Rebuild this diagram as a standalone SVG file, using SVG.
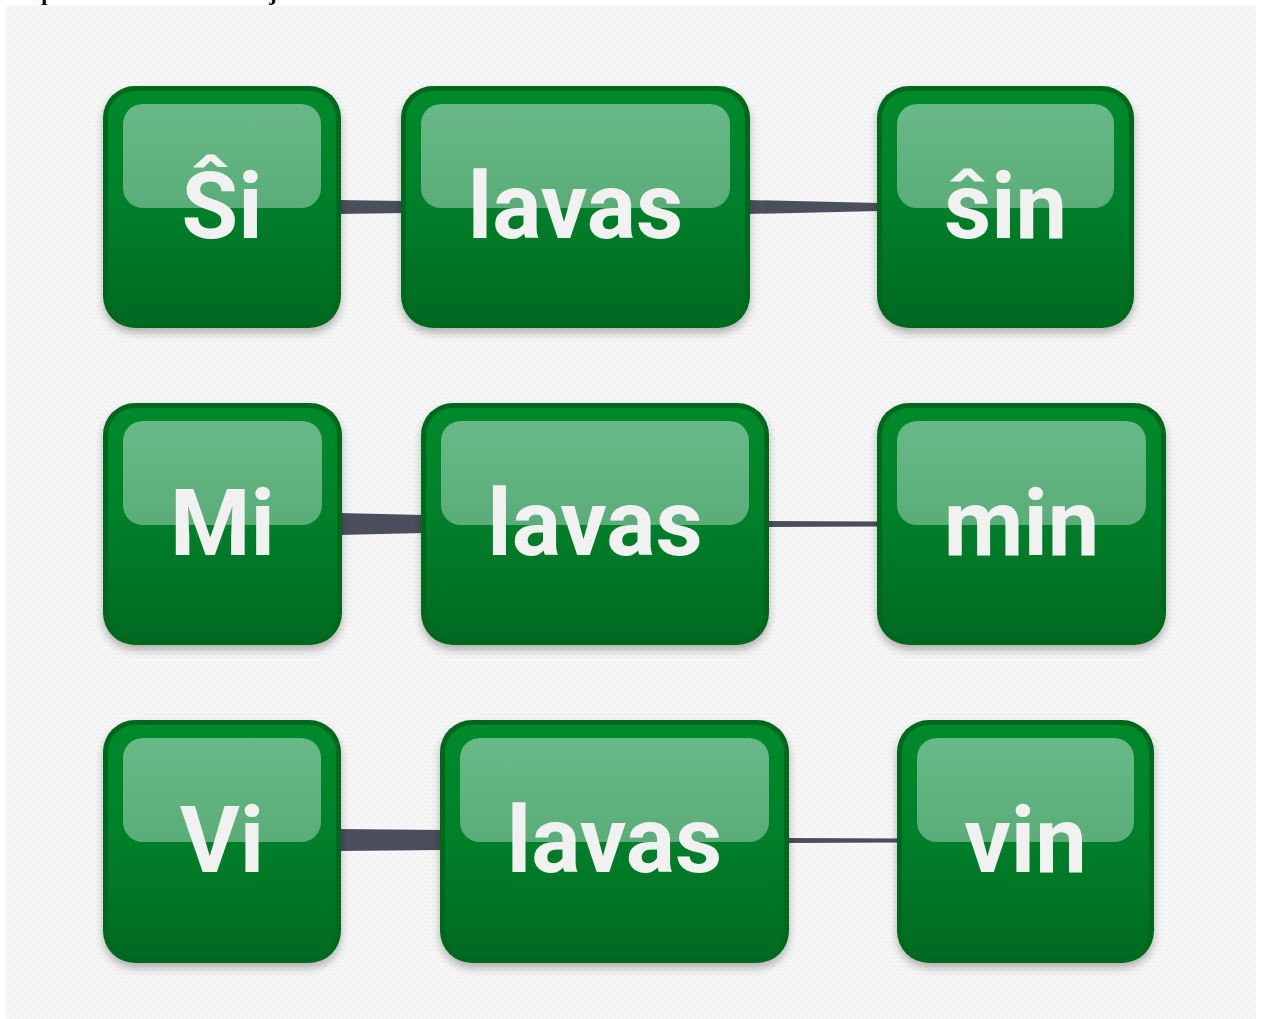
<svg xmlns="http://www.w3.org/2000/svg" width="1264" height="1019" viewBox="0 0 1264 1019">
<defs>
<pattern id="dots" width="8" height="8" patternUnits="userSpaceOnUse">
<rect width="8" height="8" fill="#f6f6f6"/>
<circle cx="2" cy="2" r="1.1" fill="#ebebeb"/>
<circle cx="6" cy="6" r="1.1" fill="#ebebeb"/>
</pattern>
<linearGradient id="body" x1="0" y1="0" x2="0" y2="1">
<stop offset="0" stop-color="#008a2c"/>
<stop offset="0.5" stop-color="#007f29"/>
<stop offset="1" stop-color="#006a22"/>
</linearGradient>
<linearGradient id="gloss" x1="0" y1="0" x2="0" y2="1">
<stop offset="0" stop-color="#68b987"/>
<stop offset="1" stop-color="#5aad78"/>
</linearGradient>
<filter id="sh" x="-10%" y="-10%" width="120%" height="130%">
<feDropShadow dx="0" dy="5" stdDeviation="4" flood-color="#000" flood-opacity="0.28"/>
</filter>
<style>
.outer{fill:#00681d;filter:url(#sh)}
.inner{fill:url(#body)}
.gloss{fill:url(#gloss)}
.lbl{font-family:Roboto,"Liberation Sans",sans-serif;font-weight:bold;font-size:92px;fill:#f1f1f1;text-anchor:middle}
.edge{fill:#4b4e5c}
.title{font-family:"Liberation Serif",serif;font-weight:bold;font-size:22px;fill:#000}
</style>
</defs>
<rect width="1264" height="1019" fill="#ffffff"/>
<rect x="6" y="6" width="1250" height="1013" fill="url(#dots)"/>
<text class="title" x="18" y="0">Esperanto en la vortaro kaj</text>
<g id="connectors">
<polygon class="edge" points="338,200 404,201 404,213 338,214"/>
<polygon class="edge" points="747,200 880,203 880,211 747,214"/>
<polygon class="edge" points="339,513 424,515 424,533 339,535"/>
<polygon class="edge" points="766,521 880,521.5 880,526.5 766,527"/>
<polygon class="edge" points="338,829 443,830 443,850 338,851"/>
<polygon class="edge" points="786,838 900,838.5 900,842.5 786,843"/>
</g>
<g id="n-si">
<rect class="outer" x="103" y="86" width="238" height="242" rx="32"/>
<rect class="inner" x="108" y="91" width="228" height="232" rx="27"/>
<rect class="gloss" x="123" y="104" width="198" height="104" rx="20"/>
<text class="lbl" x="222" y="238">Ŝi</text>
</g>
<g id="n-lavas1">
<rect class="outer" x="401" y="86" width="349" height="242" rx="32"/>
<rect class="inner" x="406" y="91" width="339" height="232" rx="27"/>
<rect class="gloss" x="421" y="104" width="309" height="104" rx="20"/>
<text class="lbl" x="575.5" y="238">lavas</text>
</g>
<g id="n-sin">
<rect class="outer" x="877" y="86" width="257" height="242" rx="32"/>
<rect class="inner" x="882" y="91" width="247" height="232" rx="27"/>
<rect class="gloss" x="897" y="104" width="217" height="104" rx="20"/>
<text class="lbl" x="1005.5" y="238">ŝin</text>
</g>
<g id="n-mi">
<rect class="outer" x="103" y="403" width="239" height="242" rx="32"/>
<rect class="inner" x="108" y="408" width="229" height="232" rx="27"/>
<rect class="gloss" x="123" y="421" width="199" height="104" rx="20"/>
<text class="lbl" x="222.5" y="555">Mi</text>
</g>
<g id="n-lavas2">
<rect class="outer" x="421" y="403" width="348" height="242" rx="32"/>
<rect class="inner" x="426" y="408" width="338" height="232" rx="27"/>
<rect class="gloss" x="441" y="421" width="308" height="104" rx="20"/>
<text class="lbl" x="595" y="555">lavas</text>
</g>
<g id="n-min">
<rect class="outer" x="877" y="403" width="289" height="242" rx="32"/>
<rect class="inner" x="882" y="408" width="279" height="232" rx="27"/>
<rect class="gloss" x="897" y="421" width="249" height="104" rx="20"/>
<text class="lbl" x="1021.5" y="555">min</text>
</g>
<g id="n-vi">
<rect class="outer" x="103" y="720" width="238" height="243" rx="32"/>
<rect class="inner" x="108" y="725" width="228" height="233" rx="27"/>
<rect class="gloss" x="123" y="738" width="198" height="104" rx="20"/>
<text class="lbl" x="222" y="872">Vi</text>
</g>
<g id="n-lavas3">
<rect class="outer" x="440" y="720" width="349" height="243" rx="32"/>
<rect class="inner" x="445" y="725" width="339" height="233" rx="27"/>
<rect class="gloss" x="460" y="738" width="309" height="104" rx="20"/>
<text class="lbl" x="614.5" y="872">lavas</text>
</g>
<g id="n-vin">
<rect class="outer" x="897" y="720" width="257" height="243" rx="32"/>
<rect class="inner" x="902" y="725" width="247" height="233" rx="27"/>
<rect class="gloss" x="917" y="738" width="217" height="104" rx="20"/>
<text class="lbl" x="1025.5" y="872">vin</text>
</g>
</svg>
